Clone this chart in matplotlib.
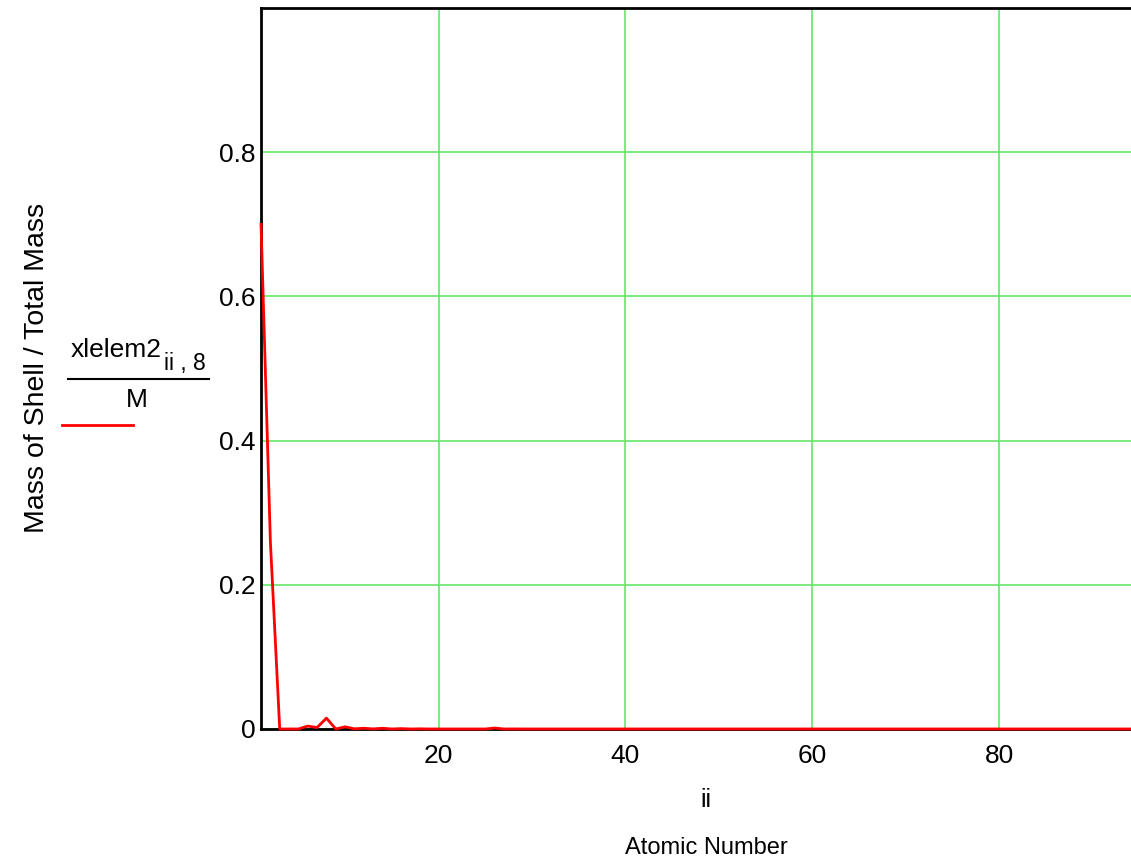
import matplotlib
matplotlib.use("Agg")
import matplotlib.pyplot as plt
import numpy as np

plt.rcParams['font.family'] = ['Liberation Sans', 'DejaVu Sans']

# Atomic numbers 1..94 and mass fraction of shell
atomic_number = list(range(1, 95))
nonzero = {1: 0.70, 2: 0.26, 6: 0.004, 7: 0.002, 8: 0.015, 10: 0.003,
           11: 0.0002, 12: 0.001, 13: 0.0001, 14: 0.001, 16: 0.0005,
           18: 0.0002, 26: 0.0013, 28: 0.0001}
mass_fraction = [nonzero.get(z, 0.0) for z in atomic_number]

x_ticks = [20, 40, 60, 80]
y_ticks = [0, 0.2, 0.4, 0.6, 0.8]
y_tick_labels = ["0", "0.2", "0.4", "0.6", "0.8"]

fig = plt.figure(figsize=(11.31, 8.63), dpi=100)
ax = fig.add_axes([0.2308, 0.1553, 0.7692, 0.8354])

ax.plot(atomic_number, mass_fraction, color='#ff0000', lw=2.0, zorder=3, clip_on=False)

ax.set_xlim(1, 94.1)
ax.set_ylim(0, 1.0)
ax.set_xticks(x_ticks)
ax.set_yticks(y_ticks)
ax.set_yticklabels(y_tick_labels)
ax.tick_params(axis='both', length=0, labelsize=19)
ax.tick_params(axis='y', pad=4)
ax.tick_params(axis='x', pad=11)
ax.grid(True, color='#66e666', lw=1.2)
ax.set_axisbelow(True)

for s in ['left', 'top', 'bottom']:
    ax.spines[s].set_linewidth(2.0)
    ax.spines[s].set_color('black')
ax.spines['right'].set_visible(False)

# x labels
fig.text(706 / 1131, 1 - 800 / 863, "ii", ha='center', va='center', fontsize=18)
fig.text(706 / 1131, 1 - 848 / 863, "Atomic Number", ha='center', va='center', fontsize=17)

# y label
fig.text(37 / 1131, 1 - 368 / 863, "Mass of Shell / Total Mass", ha='center', va='center',
         rotation=90, fontsize=20.5)

# legend-like fraction
fig.text(71 / 1131, 1 - 350 / 863, "xlelem2", ha='left', va='center', fontsize=19)
fig.text(164 / 1131, 1 - 363 / 863, "ii , 8", ha='left', va='center', fontsize=16.5)
fig.add_artist(plt.Line2D([68 / 1131, 209 / 1131], [1 - 379 / 863, 1 - 379 / 863],
                          color='black', lw=1.5, transform=fig.transFigure))
fig.text(137 / 1131, 1 - 400 / 863, "M", ha='center', va='center', fontsize=19)
fig.add_artist(plt.Line2D([62 / 1131, 133 / 1131], [1 - 425 / 863, 1 - 425 / 863],
                          color='#ff0000', lw=2.0, transform=fig.transFigure))

fig.savefig("out.png", dpi=100)
